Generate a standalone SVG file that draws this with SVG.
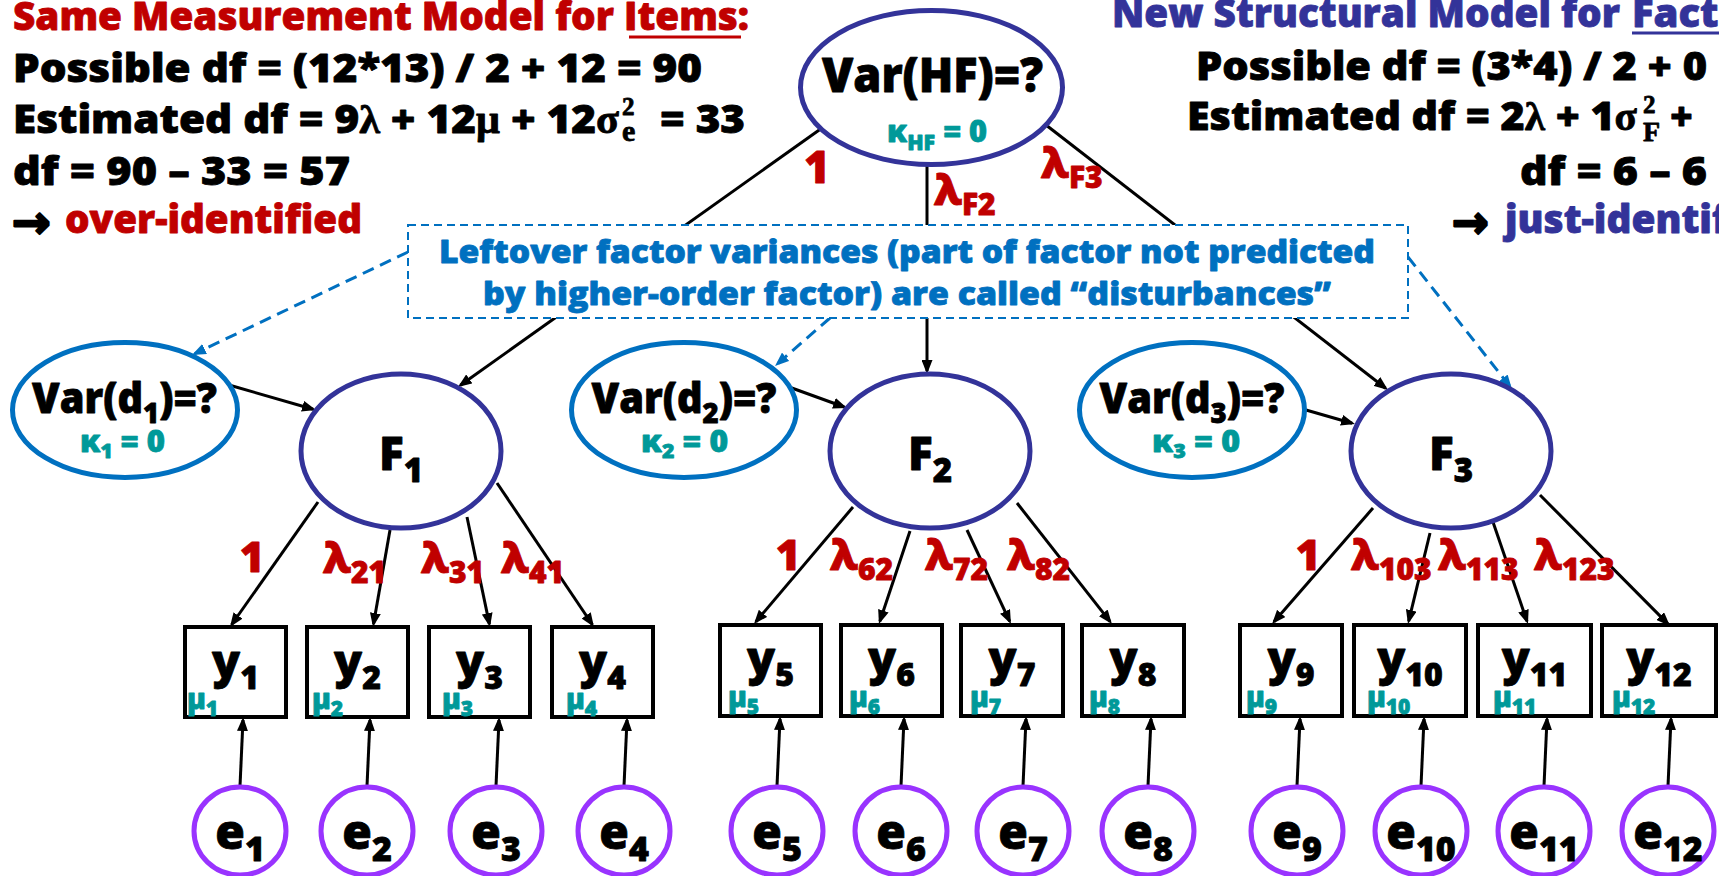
<svg xmlns="http://www.w3.org/2000/svg" width="1719" height="876" viewBox="0 0 1719 876">
<defs>
<style>
.t{font-family:"Open Sans","Noto Sans","DejaVu Sans",sans-serif;font-weight:800;stroke-width:0.8;stroke-linejoin:round}
.ser{font-family:"Liberation Serif","DejaVu Serif",serif;font-weight:700}
.arw{font-family:"DejaVu Sans",sans-serif;font-weight:700;stroke-width:2.2}
.red{fill:#C00000;stroke:#C00000}.blk{fill:#000;stroke:#000}.nav{fill:#333399;stroke:#333399}.teal{fill:#009999;stroke:#009999}.blu{fill:#0070C0;stroke:#0070C0}
.ln{stroke:#000;stroke-width:3;fill:none;marker-end:url(#ah)}
.dl{stroke:#0070C0;stroke-width:3;stroke-dasharray:12 7;fill:none;marker-end:url(#ahb)}
.ef{fill:#fff;stroke:#333399;stroke-width:5}
.dv{fill:#fff;stroke:#0070C0;stroke-width:5}
.ee{fill:#fff;stroke:#9933FF;stroke-width:5}
.bx{fill:#fff;stroke:#000;stroke-width:4}
.note{fill:#fff;stroke:#0070C0;stroke-width:2;stroke-dasharray:8 5}
.yl{font-size:46px}.ys{font-size:32px}
.mu{font-size:28px}.ms{font-size:21px}
.el{font-size:48px}.es{font-size:34px}
.lab{font-size:42px}.ls{font-size:30px}
</style>
<marker id="ah" viewBox="0 0 14 11" markerWidth="14" markerHeight="11" refX="11" refY="5.5" orient="auto" markerUnits="userSpaceOnUse"><path d="M0,0 L14,5.5 L0,11 z" fill="#000"/></marker>
<marker id="ahb" viewBox="0 0 14 11" markerWidth="14" markerHeight="11" refX="11" refY="5.5" orient="auto" markerUnits="userSpaceOnUse"><path d="M0,0 L14,5.5 L0,11 z" fill="#0070C0"/></marker>
</defs>
<rect width="1719" height="876" fill="#fff"/>

<g id="connectors">
<line class="ln" x1="822" y1="128" x2="460.4" y2="385.3"/>
<line class="ln" x1="927" y1="164" x2="927" y2="371"/>
<line class="ln" x1="1046" y1="125" x2="1385.6" y2="388.2"/>
<line class="ln" x1="229" y1="385" x2="313.1" y2="409.2"/>
<line class="ln" x1="789" y1="387" x2="844.2" y2="407"/>
<line class="ln" x1="1306" y1="410" x2="1352.1" y2="423.2"/>
<line class="ln" x1="318" y1="502" x2="231.7" y2="624.5"/>
<line class="ln" x1="390" y1="530" x2="373.5" y2="624"/>
<line class="ln" x1="467" y1="517" x2="489.4" y2="624.1"/>
<line class="ln" x1="497" y1="483" x2="592.3" y2="624.5"/>
<line class="ln" x1="853" y1="507" x2="755.9" y2="621.7"/>
<line class="ln" x1="910" y1="531" x2="879.9" y2="621.2"/>
<line class="ln" x1="967" y1="530" x2="1009.7" y2="621.3"/>
<line class="ln" x1="1017" y1="503" x2="1110.1" y2="621.6"/>
<line class="ln" x1="1373" y1="508" x2="1274" y2="621.7"/>
<line class="ln" x1="1430" y1="533" x2="1408.7" y2="621.1"/>
<line class="ln" x1="1493" y1="522" x2="1527" y2="621.2"/>
<line class="ln" x1="1540" y1="495" x2="1667.9" y2="623.9"/>
<line class="ln" x1="240" y1="786" x2="243" y2="720"/>
<line class="ln" x1="367" y1="786" x2="370" y2="720"/>
<line class="ln" x1="496" y1="786" x2="499" y2="720"/>
<line class="ln" x1="624" y1="786" x2="627" y2="720"/>
<line class="ln" x1="777" y1="786" x2="780" y2="719"/>
<line class="ln" x1="901" y1="786" x2="904" y2="719"/>
<line class="ln" x1="1023" y1="786" x2="1026" y2="719"/>
<line class="ln" x1="1148" y1="786" x2="1151" y2="719"/>
<line class="ln" x1="1297" y1="786" x2="1300" y2="719"/>
<line class="ln" x1="1421" y1="786" x2="1424" y2="719"/>
<line class="ln" x1="1544" y1="786" x2="1547" y2="719"/>
<line class="ln" x1="1668" y1="786" x2="1671" y2="719"/>
<line class="dl" x1="408" y1="252" x2="194.7" y2="353.7"/>
<line class="dl" x1="830" y1="318" x2="777.3" y2="364"/>
<line class="dl" x1="1408" y1="257" x2="1510.1" y2="386.6"/>
<g class="t red lab">
<text x="817" y="183" text-anchor="middle" style="font-size:44px">1</text>
<text x="934" y="205">λ<tspan class="ls" dy="10">F2</tspan></text>
<text x="1041" y="178">λ<tspan class="ls" dy="10">F3</tspan></text>
<text x="252" y="572" text-anchor="middle">1</text>
<text x="323" y="573">λ<tspan class="ls" dy="10">21</tspan></text>
<text x="421" y="573">λ<tspan class="ls" dy="10">31</tspan></text>
<text x="501" y="573">λ<tspan class="ls" dy="10">41</tspan></text>
<text x="788" y="570" text-anchor="middle">1</text>
<text x="830" y="570">λ<tspan class="ls" dy="10">62</tspan></text>
<text x="925" y="570">λ<tspan class="ls" dy="10">72</tspan></text>
<text x="1007" y="570">λ<tspan class="ls" dy="10">82</tspan></text>
<text x="1308" y="570" text-anchor="middle">1</text>
<text x="1351" y="570">λ<tspan class="ls" dy="10">103</tspan></text>
<text x="1438" y="570">λ<tspan class="ls" dy="10">113</tspan></text>
<text x="1534" y="570">λ<tspan class="ls" dy="10">123</tspan></text>
</g>
</g>

<g id="note">
<rect class="note" x="408" y="225" width="1000" height="93"/>
<text class="t blu" x="439" y="263" style="font-size:31.5px" textLength="936" lengthAdjust="spacingAndGlyphs">Leftover factor variances (part of factor not predicted</text>
<text class="t blu" x="483" y="305" style="font-size:31.5px" textLength="848" lengthAdjust="spacingAndGlyphs">by higher-order factor) are called “disturbances”</text>
</g>

<g id="text-left" class="t">
<text class="red" x="13" y="30" style="font-size:39px" textLength="736" lengthAdjust="spacingAndGlyphs">Same Measurement Model for Items:</text>
<line x1="629" y1="37" x2="741" y2="37" stroke="#C00000" stroke-width="3"/>
<text class="blk" x="13" y="82" style="font-size:39px" textLength="689" lengthAdjust="spacingAndGlyphs">Possible df = (12*13) / 2 + 12 = 90</text>
<text class="blk" x="13" y="133" style="font-size:39px" textLength="606" lengthAdjust="spacingAndGlyphs">Estimated df = 9<tspan class="ser">λ</tspan> + 12<tspan class="ser">μ</tspan> + 12<tspan class="ser">σ</tspan></text>
<text class="blk ser" x="622" y="115" style="font-size:25px">2</text>
<text class="blk ser" x="622" y="141" style="font-size:30px">e</text>
<text class="blk" x="660" y="133" style="font-size:39px" textLength="85" lengthAdjust="spacingAndGlyphs">= 33</text>
<text class="blk" x="13" y="185" style="font-size:39px" textLength="337" lengthAdjust="spacingAndGlyphs">df = 90 – 33 = 57</text>
<text class="blk arw" x="12" y="238" style="font-size:46px" textLength="39" lengthAdjust="spacingAndGlyphs">→</text>
<text class="red" x="65" y="233" style="font-size:39px" textLength="297" lengthAdjust="spacingAndGlyphs">over-identified</text>
</g>

<g id="text-right" class="t">
<text class="nav" x="1112" y="27" style="font-size:39px" textLength="508" lengthAdjust="spacingAndGlyphs">New Structural Model for</text>
<text class="nav" x="1632" y="27" style="font-size:39px" textLength="112" lengthAdjust="spacingAndGlyphs">Facto</text>
<line x1="1632" y1="33" x2="1719" y2="33" stroke="#333399" stroke-width="3"/>
<text class="blk" x="1196" y="80" style="font-size:39px" textLength="511" lengthAdjust="spacingAndGlyphs">Possible df = (3*4) / 2 + 0</text>
<text class="blk" x="1187" y="130" style="font-size:39px" textLength="450" lengthAdjust="spacingAndGlyphs">Estimated df = 2<tspan class="ser">λ</tspan> + 1<tspan class="ser">σ</tspan></text>
<text class="blk ser" x="1643" y="113" style="font-size:25px">2</text>
<text class="blk ser" x="1643" y="141" style="font-size:28px">F</text>
<text class="blk" x="1670" y="130" style="font-size:39px">+</text>
<text class="blk" x="1520" y="185" style="font-size:39px" textLength="187" lengthAdjust="spacingAndGlyphs">df = 6 – 6</text>
<text class="blk arw" x="1452" y="238" style="font-size:46px" textLength="37" lengthAdjust="spacingAndGlyphs">→</text>
<text class="nav" x="1505" y="233" style="font-size:39px" textLength="223" lengthAdjust="spacingAndGlyphs">just-identif</text>
</g>

<g id="node-HF">
<ellipse class="ef" cx="931.5" cy="87.5" rx="131" ry="77"/>
<text class="t blk" x="822" y="92" style="font-size:48px" textLength="221" lengthAdjust="spacingAndGlyphs">Var(HF)=?</text>
<text class="t teal" x="887" y="142" style="font-size:30px" textLength="100" lengthAdjust="spacingAndGlyphs">κ<tspan dy="8" style="font-size:21px">HF</tspan><tspan dy="-8"> = 0</tspan></text>
</g>

<g id="node-d1">
<ellipse class="dv" cx="125" cy="410" rx="112.5" ry="67.5"/>
<text class="t blk" x="32" y="413" style="font-size:42px" textLength="185" lengthAdjust="spacingAndGlyphs">Var(d<tspan dy="10" style="font-size:29px">1</tspan><tspan dy="-10">)=?</tspan></text>
<text class="t teal" x="80" y="452" style="font-size:30px" textLength="85" lengthAdjust="spacingAndGlyphs">κ<tspan dy="6" style="font-size:20px">1</tspan><tspan dy="-6"> = 0</tspan></text>
</g>
<g id="node-d2">
<ellipse class="dv" cx="684" cy="410" rx="112.5" ry="67.5"/>
<text class="t blk" x="591.5" y="413" style="font-size:42px" textLength="185" lengthAdjust="spacingAndGlyphs">Var(d<tspan dy="10" style="font-size:29px">2</tspan><tspan dy="-10">)=?</tspan></text>
<text class="t teal" x="641" y="452" style="font-size:30px" textLength="87" lengthAdjust="spacingAndGlyphs">κ<tspan dy="6" style="font-size:20px">2</tspan><tspan dy="-6"> = 0</tspan></text>
</g>
<g id="node-d3">
<ellipse class="dv" cx="1192" cy="410" rx="112.5" ry="67.5"/>
<text class="t blk" x="1099.5" y="413" style="font-size:42px" textLength="185" lengthAdjust="spacingAndGlyphs">Var(d<tspan dy="10" style="font-size:29px">3</tspan><tspan dy="-10">)=?</tspan></text>
<text class="t teal" x="1152" y="452" style="font-size:30px" textLength="88" lengthAdjust="spacingAndGlyphs">κ<tspan dy="6" style="font-size:20px">3</tspan><tspan dy="-6"> = 0</tspan></text>
</g>

<g id="node-F1"><ellipse class="ef" cx="401" cy="451" rx="100" ry="77"/><text class="t blk" x="401" y="470" text-anchor="middle" style="font-size:46px">F<tspan dy="12" style="font-size:33px">1</tspan></text></g>
<g id="node-F2"><ellipse class="ef" cx="930" cy="451" rx="100" ry="77"/><text class="t blk" x="930" y="470" text-anchor="middle" style="font-size:46px">F<tspan dy="12" style="font-size:33px">2</tspan></text></g>
<g id="node-F3"><ellipse class="ef" cx="1451" cy="451" rx="100" ry="77"/><text class="t blk" x="1451" y="470" text-anchor="middle" style="font-size:46px">F<tspan dy="12" style="font-size:33px">3</tspan></text></g>

<g id="node-y1"><rect class="bx" x="185" y="627" width="101" height="90"/><text class="t blk yl" x="235.5" y="678" text-anchor="middle">y<tspan class="ys" dy="11">1</tspan></text><text class="t teal mu" x="187" y="709">μ<tspan class="ms" dy="7">1</tspan></text></g>
<g id="node-y2"><rect class="bx" x="307" y="627" width="101" height="90"/><text class="t blk yl" x="357.5" y="678" text-anchor="middle">y<tspan class="ys" dy="11">2</tspan></text><text class="t teal mu" x="312" y="709">μ<tspan class="ms" dy="7">2</tspan></text></g>
<g id="node-y3"><rect class="bx" x="429" y="627" width="101" height="90"/><text class="t blk yl" x="479.5" y="678" text-anchor="middle">y<tspan class="ys" dy="11">3</tspan></text><text class="t teal mu" x="442" y="709">μ<tspan class="ms" dy="7">3</tspan></text></g>
<g id="node-y4"><rect class="bx" x="552" y="627" width="101" height="90"/><text class="t blk yl" x="602.5" y="678" text-anchor="middle">y<tspan class="ys" dy="11">4</tspan></text><text class="t teal mu" x="566" y="709">μ<tspan class="ms" dy="7">4</tspan></text></g>
<g id="node-y5"><rect class="bx" x="720" y="625" width="101" height="91"/><text class="t blk yl" x="770.5" y="675" text-anchor="middle">y<tspan class="ys" dy="11">5</tspan></text><text class="t teal mu" x="728" y="707">μ<tspan class="ms" dy="7">5</tspan></text></g>
<g id="node-y6"><rect class="bx" x="841" y="625" width="101" height="91"/><text class="t blk yl" x="891.5" y="675" text-anchor="middle">y<tspan class="ys" dy="11">6</tspan></text><text class="t teal mu" x="849" y="707">μ<tspan class="ms" dy="7">6</tspan></text></g>
<g id="node-y7"><rect class="bx" x="961" y="625" width="102" height="91"/><text class="t blk yl" x="1012" y="675" text-anchor="middle">y<tspan class="ys" dy="11">7</tspan></text><text class="t teal mu" x="970" y="707">μ<tspan class="ms" dy="7">7</tspan></text></g>
<g id="node-y8"><rect class="bx" x="1082" y="625" width="102" height="91"/><text class="t blk yl" x="1133" y="675" text-anchor="middle">y<tspan class="ys" dy="11">8</tspan></text><text class="t teal mu" x="1089" y="707">μ<tspan class="ms" dy="7">8</tspan></text></g>
<g id="node-y9"><rect class="bx" x="1240" y="625" width="102" height="91"/><text class="t blk yl" x="1291" y="675" text-anchor="middle">y<tspan class="ys" dy="11">9</tspan></text><text class="t teal mu" x="1246" y="707">μ<tspan class="ms" dy="7">9</tspan></text></g>
<g id="node-y10"><rect class="bx" x="1354" y="625" width="112" height="91"/><text class="t blk yl" x="1410" y="675" text-anchor="middle">y<tspan class="ys" dy="11">10</tspan></text><text class="t teal mu" x="1367" y="707">μ<tspan class="ms" dy="7">10</tspan></text></g>
<g id="node-y11"><rect class="bx" x="1478" y="625" width="113" height="91"/><text class="t blk yl" x="1534.5" y="675" text-anchor="middle">y<tspan class="ys" dy="11">11</tspan></text><text class="t teal mu" x="1493" y="707">μ<tspan class="ms" dy="7">11</tspan></text></g>
<g id="node-y12"><rect class="bx" x="1602" y="625" width="114" height="91"/><text class="t blk yl" x="1659" y="675" text-anchor="middle">y<tspan class="ys" dy="11">12</tspan></text><text class="t teal mu" x="1612" y="707">μ<tspan class="ms" dy="7">12</tspan></text></g>

<g id="node-e1"><ellipse class="ee" cx="240" cy="831" rx="46" ry="44"/><text class="t blk el" x="240" y="849" text-anchor="middle">e<tspan class="es" dy="12">1</tspan></text></g>
<g id="node-e2"><ellipse class="ee" cx="367" cy="831" rx="46" ry="44"/><text class="t blk el" x="367" y="849" text-anchor="middle">e<tspan class="es" dy="12">2</tspan></text></g>
<g id="node-e3"><ellipse class="ee" cx="496" cy="831" rx="46" ry="44"/><text class="t blk el" x="496" y="849" text-anchor="middle">e<tspan class="es" dy="12">3</tspan></text></g>
<g id="node-e4"><ellipse class="ee" cx="624" cy="831" rx="46" ry="44"/><text class="t blk el" x="624" y="849" text-anchor="middle">e<tspan class="es" dy="12">4</tspan></text></g>
<g id="node-e5"><ellipse class="ee" cx="777" cy="831" rx="46" ry="44"/><text class="t blk el" x="777" y="849" text-anchor="middle">e<tspan class="es" dy="12">5</tspan></text></g>
<g id="node-e6"><ellipse class="ee" cx="901" cy="831" rx="46" ry="44"/><text class="t blk el" x="901" y="849" text-anchor="middle">e<tspan class="es" dy="12">6</tspan></text></g>
<g id="node-e7"><ellipse class="ee" cx="1023" cy="831" rx="46" ry="44"/><text class="t blk el" x="1023" y="849" text-anchor="middle">e<tspan class="es" dy="12">7</tspan></text></g>
<g id="node-e8"><ellipse class="ee" cx="1148" cy="831" rx="46" ry="44"/><text class="t blk el" x="1148" y="849" text-anchor="middle">e<tspan class="es" dy="12">8</tspan></text></g>
<g id="node-e9"><ellipse class="ee" cx="1297" cy="831" rx="46" ry="44"/><text class="t blk el" x="1297" y="849" text-anchor="middle">e<tspan class="es" dy="12">9</tspan></text></g>
<g id="node-e10"><ellipse class="ee" cx="1421" cy="831" rx="46" ry="44"/><text class="t blk el" x="1421" y="849" text-anchor="middle">e<tspan class="es" dy="12">10</tspan></text></g>
<g id="node-e11"><ellipse class="ee" cx="1544" cy="831" rx="46" ry="44"/><text class="t blk el" x="1544" y="849" text-anchor="middle">e<tspan class="es" dy="12">11</tspan></text></g>
<g id="node-e12"><ellipse class="ee" cx="1668" cy="831" rx="46" ry="44"/><text class="t blk el" x="1668" y="849" text-anchor="middle">e<tspan class="es" dy="12">12</tspan></text></g>
</svg>
